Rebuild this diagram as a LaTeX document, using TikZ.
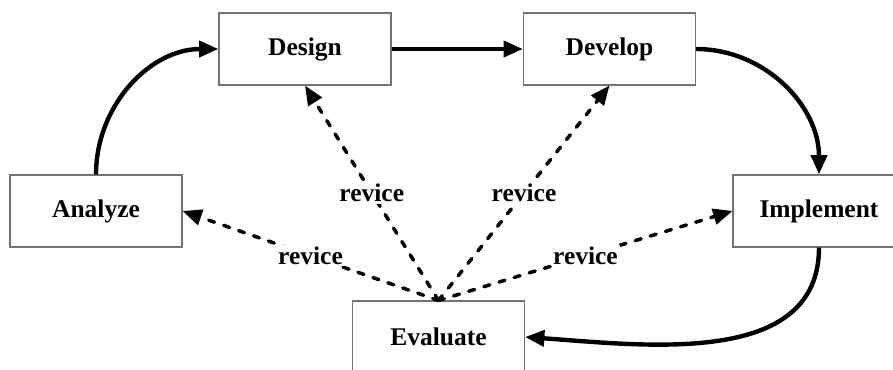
\documentclass[tikz,border=0pt]{standalone}
\usepackage{fontspec}
\setmainfont{Liberation Serif}
\usetikzlibrary{arrows.meta,positioning}
\tikzset{
  bx/.style={rectangle,draw=black!55,line width=0.6pt,minimum width=3.44cm,minimum height=1.44cm,inner sep=0pt,font=\fontsize{14.5}{17}\selectfont\bfseries},
  ar/.style={-{Triangle[length=11pt,width=9pt]},line width=2.5pt},
  rv/.style={ar,line width=2pt,line cap=round,dash pattern=on 3.5pt off 5.5pt},
  lb/.style={fill=white,inner sep=1pt,font=\fontsize{14.5}{17}\selectfont\bfseries},
}

\begin{document}
\begin{tikzpicture}
  \clip (0,0) rectangle (17.86,7.38);
  \node[bx] (des) at (6.10,6.40) {Design};
  \node[bx] (dev) at (12.19,6.40) {Develop};
  \node[bx] (ana) at (1.92,3.16) {Analyze};
  \node[bx] (imp) at (16.38,3.16) {Implement};
  \node[bx] (eva) at (8.77,0.64) {Evaluate};

  \draw[ar] (ana.north) to[out=90,in=180] (des.west);
  \draw[ar] (des.east) -- (dev.west);
  \draw[ar] (dev.east) to[out=0,in=90] (imp.north);
  \draw[ar] (imp.south) to[out=-90,in=-4] (eva.east);

  \draw[rv] (eva.north) -- node[lb]{revice} (ana.east);
  \draw[rv] (eva.north) -- node[lb]{revice} (des.south);
  \draw[rv] (eva.north) -- node[lb]{revice} (dev.south);
  \draw[rv] (eva.north) -- node[lb]{revice} (imp.west);
\end{tikzpicture}
\end{document}
